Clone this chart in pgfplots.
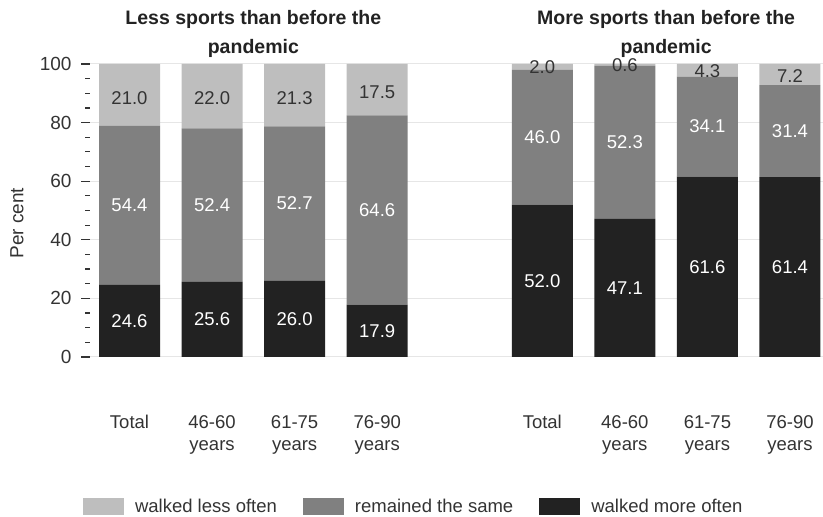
\documentclass[border=0pt]{standalone}
\usepackage{pgfplots}
\pgfplotsset{compat=1.18}
\usepackage{pgfplotstable}
\usepackage{fontspec}
\setmainfont{Liberation Sans}
\definecolor{clight}{HTML}{BEBEBE}
\definecolor{cmid}{HTML}{808080}
\definecolor{cdark}{HTML}{222222}
\definecolor{ctext}{HTML}{333333}
\definecolor{cgrid}{HTML}{E6E6E6}

\pgfplotstableread{
x dark mid light
0 24.6 54.4 21.0
1 25.6 52.4 22.0
2 26.0 52.7 21.3
3 17.9 64.6 17.5
5 52.0 46.0 2.0
6 47.1 52.3 0.6
7 61.6 34.1 4.3
8 61.4 31.4 7.2
}\bars

\pgfplotstableread{
x y lab
0 12.3 24.6
1 12.8 25.6
2 13.0 26.0
3 8.95 17.9
5 26.0 52.0
6 23.55 47.1
7 30.8 61.6
8 30.7 61.4
}\darklab

\pgfplotstableread{
x y lab
0 51.8 54.4
1 51.8 52.4
2 52.35 52.7
3 50.2 64.6
5 75.0 46.0
6 73.25 52.3
7 78.65 34.1
8 77.1 31.4
}\midlab

\pgfplotstableread{
x y lab
0 88.5 21.0
1 88.5 22.0
2 88.5 21.3
3 90.3 17.5
5 99.0 2.0
6 99.6 0.6
7 97.6 4.3
8 95.9 7.2
}\lightlab

\begin{document}
\begin{tikzpicture}[font=\fontsize{18.5bp}{22bp}\selectfont]
\begin{axis}[
  x=82.56bp, y=2.93bp,
  xmin=-0.478, xmax=8.4, ymin=0, ymax=100,
  ybar stacked, bar width=61bp,
  clip=false,
  axis lines*=left,
  axis line style={draw=none},
  xtick={0,1,2,3,5,6,7,8},
  xticklabels={Total,{46-60\\years},{61-75\\years},{76-90\\years},Total,{46-60\\years},{61-75\\years},{76-90\\years}},
  xticklabel style={align=center, anchor=north, yshift=-46bp, text=ctext},
  x tick style={draw=none},
  ytick={0,20,40,60,80,100},
  minor y tick num=3,
  tick align=outside,
  major tick length=9bp,
  minor tick length=5bp,
  y tick style={draw=ctext, line width=1.2bp},
  yticklabel style={text=ctext, xshift=-6bp, font=\fontsize{19bp}{22bp}\selectfont},
  /pgf/number format/assume math mode=true,
  ymajorgrids,
  major grid style={draw=cgrid, line width=1bp},
  every axis y label/.style={at={(axis cs:-1.363,45.7)}, rotate=90, anchor=center, text=ctext, font=\fontsize{19bp}{22bp}\selectfont},
  ylabel={Per cent},
  legend columns=3,
  legend style={at={(axis cs:-0.563,-50.9)}, anchor=west, draw=none, fill=none,
    inner sep=0pt, outer sep=0pt, text=ctext,
    /tikz/every odd column/.append style={column sep=0bp},
    /tikz/every even column/.append style={column sep=26bp},
    nodes={inner sep=0pt, text depth=0pt}},
  legend cell align=left,
  legend image code/.code={\fill[#1] (0bp,-8.5bp) rectangle (41bp,8.5bp);},
  legend entries={\hspace{11bp}walked more often,\hspace{11bp}remained the same,\hspace{11bp}walked less often},
  reverse legend,
]
\addplot[fill=cdark, draw=none] table[x=x, y=dark] {\bars};
\addplot[fill=cmid, draw=none] table[x=x, y=mid] {\bars};
\addplot[fill=clight, draw=none] table[x=x, y=light] {\bars};
\node[align=center, font=\fontsize{19.5bp}{29bp}\selectfont\bfseries, text=cdark] at (axis cs:1.5,110.4) {Less sports than before the\\pandemic};
\node[align=center, font=\fontsize{19.5bp}{29bp}\selectfont\bfseries, text=cdark] at (axis cs:6.5,110.4) {More sports than before the\\pandemic};
\coordinate (bl) at (axis cs:-1.5686,-54.61);
\coordinate (tr) at (axis cs:8.4,121.84);
\end{axis}
\begin{axis}[
  x=82.56bp, y=2.93bp,
  xmin=-0.478, xmax=8.4, ymin=0, ymax=100,
  hide axis, clip=false,
  point meta=explicit symbolic,
  nodes near coords,
  every node near coord/.append style={anchor=center, inner sep=0pt},
]
\addplot[draw=none, mark=none, nodes near coords style={text=white}] table[x=x, y=y, meta=lab] {\darklab};
\addplot[draw=none, mark=none, nodes near coords style={text=white}] table[x=x, y=y, meta=lab] {\midlab};
\addplot[draw=none, mark=none, nodes near coords style={text=ctext}] table[x=x, y=y, meta=lab] {\lightlab};
\end{axis}
\pgfresetboundingbox
\path[use as bounding box] (bl) rectangle (tr);
\end{tikzpicture}
\end{document}
